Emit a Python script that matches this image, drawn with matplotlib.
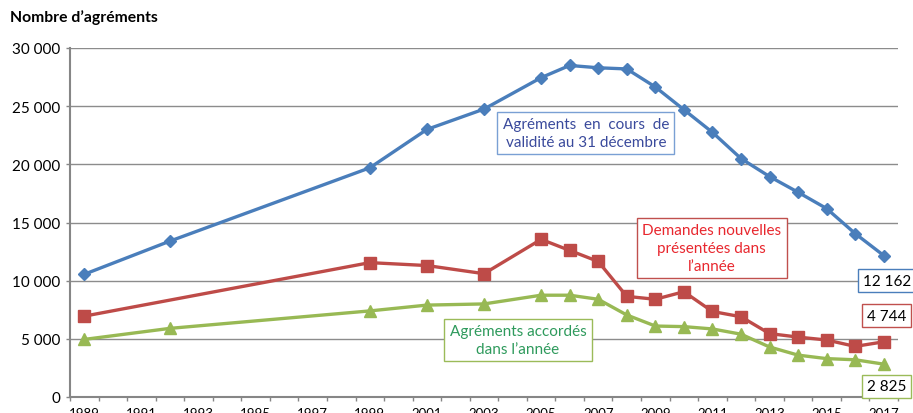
import numpy as np
import matplotlib
matplotlib.use("Agg")
import matplotlib.pyplot as plt
from matplotlib.ticker import FuncFormatter, MultipleLocator, FixedLocator

plt.rcParams['font.family'] = ['Lato', 'DejaVu Sans']

# Years with data
years_valid = [1989, 1992, 1999, 2001, 2003, 2005, 2006, 2007, 2008, 2009,
               2010, 2011, 2012, 2013, 2014, 2015, 2016, 2017]
en_cours = [10550, 13400, 19700, 23000, 24750, 27450, 28500, 28300, 28200, 26650,
            24700, 22750, 20500, 18950, 17600, 16200, 14050, 12162]

years_dem = [1989, 1999, 2001, 2003, 2005, 2006, 2007, 2008, 2009,
             2010, 2011, 2012, 2013, 2014, 2015, 2016, 2017]
demandes = [6950, 11550, 11300, 10600, 13550, 12600, 11650, 8650, 8400,
            9050, 7350, 6900, 5450, 5150, 4900, 4350, 4744]

years_acc = years_valid
accordes = [4950, 5900, 7400, 7900, 8000, 8750, 8750, 8400, 7050, 6100,
            6050, 5850, 5400, 4300, 3600, 3300, 3200, 2825]

BLUE = "#4a7ebb"
RED = "#be4b48"
GREEN = "#98b954"

W, H = 913, 414
fig = plt.figure(figsize=(W / 100, H / 100), dpi=100)
ax = fig.add_axes([70 / W, (H - 398) / H, (898 - 70) / W, (398 - 49) / H])

ax.plot(years_valid, en_cours, color=BLUE, lw=2.4, marker="D", ms=6.5, zorder=3)
ax.plot(years_dem, demandes, color=RED, lw=2.4, marker="s", ms=8.5, zorder=3)
ax.plot(years_acc, accordes, color=GREEN, lw=2.4, marker="^", ms=8.5, zorder=3)

ax.set_xlim(1988.5, 2017.5)
ax.set_ylim(0, 30000)

ax.yaxis.set_major_locator(MultipleLocator(5000))
ax.yaxis.set_major_formatter(FuncFormatter(lambda v, p: f"{int(v):,}".replace(",", " ")))
ax.xaxis.set_major_locator(FixedLocator(list(range(1989, 2018, 2))))
ax.xaxis.set_major_formatter(FuncFormatter(lambda v, p: f"{int(round(v))}"))
ax.xaxis.set_minor_locator(FixedLocator(np.arange(1988.5, 2018, 1.0)))
ax.tick_params(axis="x", which="major", length=0, pad=7, labelsize=9.5)
ax.tick_params(axis="x", which="minor", length=3, width=1, color="#868686", direction="out")
ax.tick_params(axis="y", length=3, width=1, color="#868686", labelsize=11, pad=4)

ax.grid(axis="y", color="#8c8c8c", lw=1)
ax.set_axisbelow(True)
for s in ["top", "right"]:
    ax.spines[s].set_visible(False)
for s in ["left", "bottom"]:
    ax.spines[s].set_color("#868686")
    ax.spines[s].set_linewidth(1.5)

fig.text(10 / W, 1 - 18 / H, "Nombre d\u2019agréments", fontsize=11.3, fontweight="bold",
         va="center", ha="left")

# Series labels
ax.text(0.623, 0.757, "Agréments  en  cours  de\nvalidité au 31 décembre", transform=ax.transAxes,
        ha="center", va="center", fontsize=11, color="#3a4a9c", linespacing=1.35,
        bbox=dict(boxstyle="square,pad=0.35", fc="white", ec="#7aa0d4", lw=1))
ax.text(0.775, 0.427, "Demandes nouvelles\nprésentées dans\nl\u2019année", transform=ax.transAxes,
        ha="center", va="center", fontsize=11, color="#e8272e", linespacing=1.35,
        bbox=dict(boxstyle="square,pad=0.35", fc="white", ec="#c0504d", lw=1))
ax.text(0.541, 0.163, "Agréments accordés\ndans l\u2019année", transform=ax.transAxes,
        ha="center", va="center", fontsize=11, color="#2e9a5c", linespacing=1.35,
        bbox=dict(boxstyle="square,pad=0.35", fc="white", ec="#9bbb59", lw=1))

# End value labels
def fmt(v):
    return f"{int(v):,}".replace(",", " ")

for yrs, vals, ec, dy in [(years_valid, en_cours, "#4a7ebb", -25),
                          (years_dem, demandes, "#c0504d", 26),
                          (years_acc, accordes, "#9bbb59", -22)]:
    ax.annotate(fmt(vals[-1]), (yrs[-1], vals[-1]), xytext=(3, dy), textcoords="offset pixels",
                ha="center", va="center", fontsize=11, color="black", annotation_clip=False,
                bbox=dict(boxstyle="square,pad=0.3", fc="white", ec=ec, lw=1), zorder=5)

fig.savefig("out.png", dpi=100)
